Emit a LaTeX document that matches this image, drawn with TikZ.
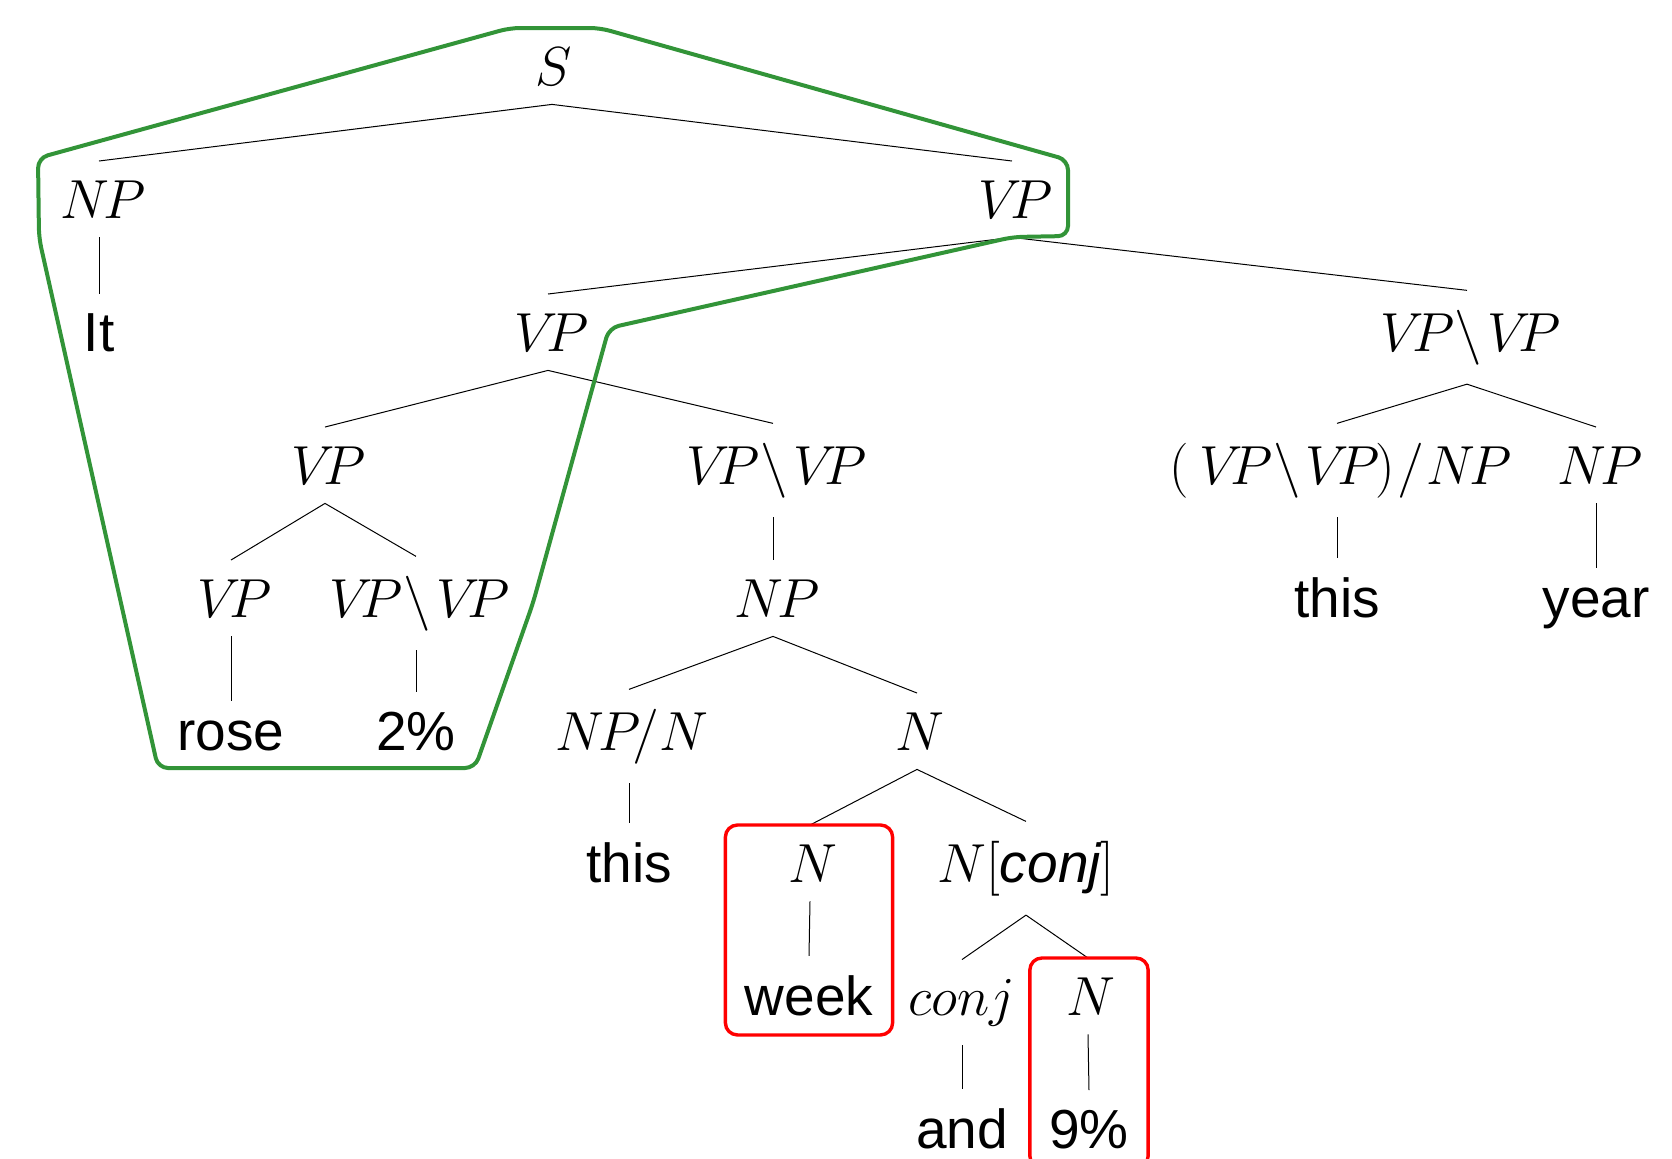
\RequirePackage{fix-cm}
\documentclass[tikz,border=0pt]{standalone}
\usepackage[no-math]{fontspec}
\setmainfont{Liberation Sans}
\usetikzlibrary{fit}
\definecolor{hullgreen}{RGB}{50,148,56}
\definecolor{boxred}{RGB}{255,0,0}
\newcommand\cat[1]{{\fontencoding{OML}\fontfamily{cmm}\fontseries{m}\fontshape{it}\selectfont #1}}
\newcommand\bsl{\kern4pt$\backslash$\kern2.5pt}
\tikzset{
  tn/.style={anchor=base, inner sep=9.5pt, font=\fontsize{27.5}{33}\selectfont},
  edge/.style={line width=0.5pt, black},
  hull/.style={draw=hullgreen, line width=2pt, rounded corners=5pt},
  redbox/.style={draw=boxred, line width=1.7pt, rounded corners=6pt, inner sep=0pt}
}
\begin{document}
\begin{tikzpicture}[x=0.5pt,y=-0.5pt]
\useasboundingbox (0,0) rectangle (1672,1158);
\clip (0,0) rectangle (1672,1158);
% nodes
\node[tn] (s) at (552,85) {\cat{S}};
\node[tn] (np1) at (99,218) {\cat{NP}};
\node[tn] (vp1) at (1012,218) {\cat{VP}};
\node[tn] (it) at (99,351) {It};
\node[tn] (vp2) at (548,351) {\cat{VP}};
\node[tn] (vpvp1) at (1467,351) {\cat{VP}\bsl\cat{VP}};
\node[tn] (vp3) at (325,484) {\cat{VP}};
\node[tn] (vpvp2) at (773,484) {\cat{VP}\bsl\cat{VP}};
\node[tn] (vpvpnp) at (1337,484) {$($\kern5pt\cat{VP}\bsl\cat{VP}\kern2pt$)$\kern1pt$/$\kern1pt\cat{NP}};
\node[tn] (np2) at (1596,484) {\cat{NP}};
\node[tn] (vp4) at (231,617) {\cat{VP}};
\node[tn] (vpvp3) at (416,617) {\cat{VP}\bsl\cat{VP}};
\node[tn] (np3) at (773,617) {\cat{NP}};
\node[tn] (this1) at (1337,617) {this};
\node[tn] (year) at (1596,617) {year};
\node[tn] (rose) at (231,750) {rose};
\node[tn] (two) at (416,750) {2\%};
\node[tn] (npn) at (629,750) {\cat{NP}$/$\cat{N}};
\node[tn] (n1) at (917,750) {\cat{N}};
\node[tn] (this2) at (629,882) {this};
\node[tn] (n2) at (810,882) {\cat{N}};
\node[tn] (nconj) at (1026,882) {$N[\textit{conj}]$};
\node[tn] (week) at (809,1015) {week};
\node[tn] (conj) at (962,1015) {$conj$};
\node[tn] (n3) at (1088,1015) {\cat{N}};
\node[tn] (and) at (962,1148) {and};
\node[tn] (nine) at (1089,1148) {9\%};
% edges
\foreach \p/\c in {s/np1, s/vp1, np1/it, vp1/vp2, vp1/vpvp1, vp2/vp3, vp2/vpvp2,
  vpvp1/vpvpnp, vpvp1/np2, vp3/vp4, vp3/vpvp3, vpvp2/np3, vpvpnp/this1, np2/year,
  vp4/rose, vpvp3/two, np3/npn, np3/n1, npn/this2, n1/n2, n1/nconj, n2/week,
  nconj/conj, nconj/n3, conj/and, n3/nine}
  \draw[edge] (\p.south) -- (\c.north);
% red boxes
\node[redbox, fit=(n2)(week)] (box1) {};
\node[redbox, fit=(n3)(nine)] (box2) {};
% green hull
\draw[hull] (510,28) -- (600,28) -- (1068,160) -- (1068,236) -- (1013,237)
  -- (609,328) -- (533,603) -- (475,768) -- (158,768) -- (39,238) -- (38,158) -- cycle;
\end{tikzpicture}
\end{document}
